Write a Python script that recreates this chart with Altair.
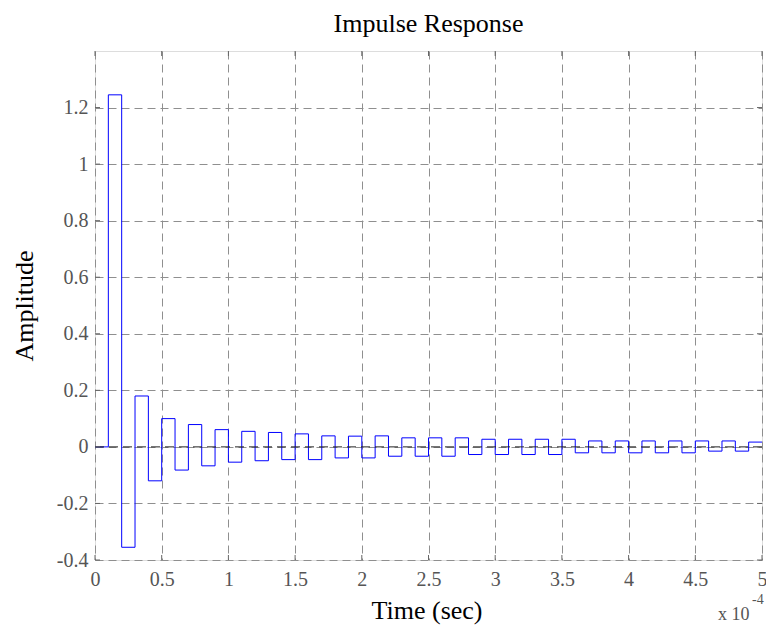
import altair as alt
import pandas as pd

# Impulse response samples (sample period 1e-5 s; time axis in units of 1e-4 s)
sample_period = 0.1  # in units of 1e-4 s
amplitude = [0, 1.245, -0.355, 0.18, -0.12, 0.100, -0.082, 0.079, -0.067, 0.061,
             -0.054, 0.055, -0.049, 0.051, -0.045, 0.046, -0.045, 0.039, -0.039, 0.038,
             -0.039, 0.039, -0.033, 0.032, -0.033, 0.032, -0.033, 0.032, -0.027, 0.027,
             -0.027, 0.027, -0.027, 0.027, -0.027, 0.027, -0.021, 0.021, -0.021, 0.021,
             -0.021, 0.021, -0.021, 0.021, -0.021, 0.021, -0.015, 0.021, -0.015, 0.017,
             0.017]
time = [round(i * sample_period, 4) for i in range(len(amplitude))]

x_ticks = [0, 0.5, 1, 1.5, 2, 2.5, 3, 3.5, 4, 4.5, 5]
y_ticks = [-0.4, -0.2, 0, 0.2, 0.4, 0.6, 0.8, 1, 1.2]
x_domain = [0, 5]
y_domain = [-0.4, 1.4]

W, H = 667, 509
FONT = "Liberation Serif"
FRAME = "#666666"
GRID = "#8f8f8f"

df = pd.DataFrame({"t": time, "a": amplitude})
df_xt = pd.DataFrame({"t": x_ticks})
df_yt = pd.DataFrame({"a": y_ticks})
df_zero = pd.DataFrame({"a": [0]})

xs = alt.Scale(domain=x_domain, nice=False, zero=False)
ys = alt.Scale(domain=y_domain, nice=False, zero=False)

x_axis = alt.Axis(values=x_ticks, grid=True, gridDash=[8, 5], gridColor=GRID, gridWidth=1,
                  domain=False, ticks=False, tickSize=0,
                  labelExpr="'' + datum.value", labelFont=FONT, labelFontSize=20,
                  labelColor="#555555", labelBaseline="alphabetic", labelPadding=25,
                  labelFlush=False, labelOverlap=False,
                  title="Time (sec)", titleFont=FONT, titleFontSize=26,
                  titleFontWeight="normal", titleColor="black",
                  titleX=W / 2 - 2, titleY=58, titleAlign="center",
                  titleBaseline="alphabetic")
y_axis = alt.Axis(values=y_ticks, grid=True, gridDash=[8, 5], gridColor=GRID, gridWidth=1,
                  domain=False, ticks=False, tickSize=0,
                  labelExpr="'' + datum.value", labelFont=FONT, labelFontSize=20,
                  labelColor="#555555", labelBaseline="middle", labelAlign="right",
                  labelPadding=7, labelFlush=False, labelOverlap=False,
                  title="Amplitude", titleFont=FONT, titleFontSize=26,
                  titleFontWeight="normal", titleColor="black",
                  titleX=-63, titleY=H / 2, titleAlign="center",
                  titleBaseline="alphabetic", titleAngle=270)

X = alt.X("t:Q", scale=xs, axis=x_axis)
Y = alt.Y("a:Q", scale=ys, axis=y_axis)

line = alt.Chart(df).mark_line(interpolate="step-after", color="#0000ff",
                               strokeWidth=1).encode(x=X, y=Y)

zero = alt.Chart(df_zero).mark_rule(color="#222222", strokeDash=[9, 5],
                                    strokeWidth=1).encode(y=Y)

tick_bottom = alt.Chart(df_xt).mark_rule(color=FRAME).encode(
    x=X, y=alt.value(H), y2=alt.value(H - 5))
tick_top = alt.Chart(df_xt).mark_rule(color=FRAME).encode(
    x=X, y=alt.value(0), y2=alt.value(5))
tick_left = alt.Chart(df_yt).mark_rule(color=FRAME).encode(
    y=Y, x=alt.value(0), x2=alt.value(5))
tick_right = alt.Chart(df_yt).mark_rule(color=FRAME).encode(
    y=Y, x=alt.value(W), x2=alt.value(W - 5))

exp_base = alt.Chart(pd.DataFrame({"s": ["x 10"]})).mark_text(
    align="left", baseline="alphabetic", font=FONT, fontSize=18, color="#555555"
).encode(text="s:N", x=alt.value(623), y=alt.value(569))
exp_pow = alt.Chart(pd.DataFrame({"s": ["-4"]})).mark_text(
    align="left", baseline="alphabetic", font=FONT, fontSize=14, color="#555555"
).encode(text="s:N", x=alt.value(657), y=alt.value(553))

chart = alt.layer(
    line, zero, tick_bottom, tick_top, tick_left, tick_right, exp_base, exp_pow
).properties(
    width=W, height=H,
    title=alt.TitleParams("Impulse Response", font=FONT, fontSize=26,
                          fontWeight="normal", color="black", anchor="middle",
                          frame="group", offset=14),
    autosize=alt.AutoSizeParams(type="none"),
    padding={"left": 95, "top": 51, "right": 4, "bottom": 70},
).configure_view(stroke=FRAME, strokeWidth=1).configure(background="white")

chart.save("out.html", embed_options={"renderer": "svg", "actions": False})
